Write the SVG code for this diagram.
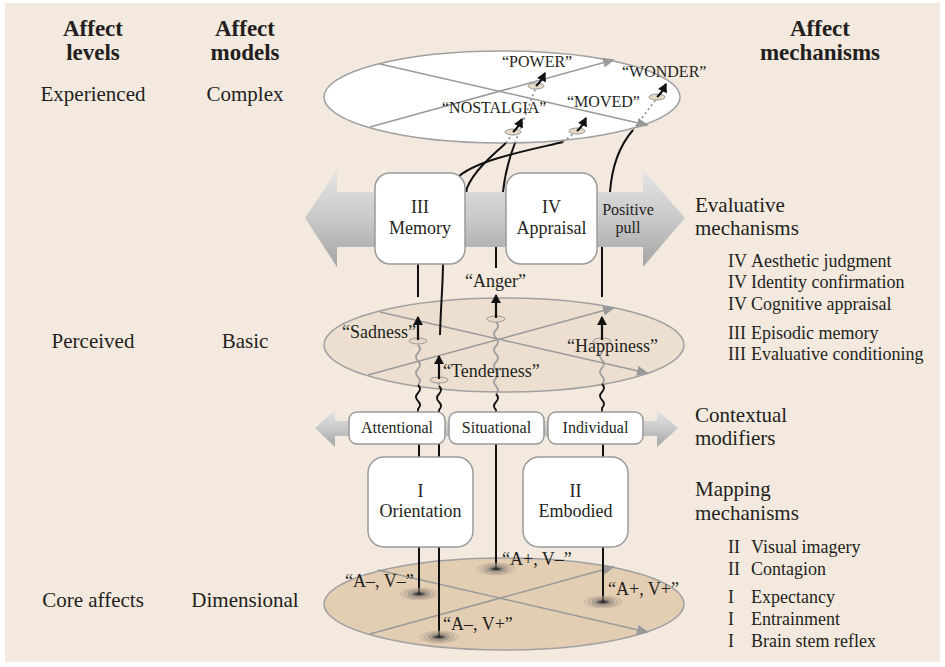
<svg xmlns="http://www.w3.org/2000/svg" xmlns:xlink="http://www.w3.org/1999/xlink" width="945" height="667" viewBox="0 0 945 667">
<style>
text{font-family:"Liberation Serif","Times New Roman",serif;fill:#231f20}
.h{font-weight:bold;font-size:23px;text-anchor:middle}
.c{font-size:21px;text-anchor:middle}
.r{font-size:21px}
.l{font-size:18px}
.q16{font-size:16px}
.q18{font-size:18px}
.bx{font-size:18px;text-anchor:middle}
.md{font-size:16px;text-anchor:middle}
.ell{stroke:#a0a0a0;stroke-width:1.5}
.cross{stroke:#9a9a9a;stroke-width:1.5;fill:none;marker-end:url(#ga)}
.box{fill:#fff;stroke:#9a9a9a;stroke-width:1.5}
.con{fill:none;stroke:#111;stroke-width:2}
.dot{fill:none;stroke:#999;stroke-width:2;stroke-dasharray:2 3}
.wg{fill:none;stroke:#a0a0a0;stroke-width:1.8}
.wb{fill:none;stroke:#111;stroke-width:1.8}
.ar{fill:none;stroke:#111;stroke-width:2.2;marker-end:url(#ba)}
.se{fill:#e8d9c6;stroke:#999;stroke-width:1}
</style>
<defs>
<marker id="ga" markerWidth="12" markerHeight="10" refX="10" refY="5" orient="auto" markerUnits="userSpaceOnUse"><path d="M0,0 L12,5 L0,10 Z" fill="#9a9a9a"/></marker>
<marker id="ba" markerWidth="9" markerHeight="10" refX="8" refY="5" orient="auto" markerUnits="userSpaceOnUse"><path d="M0,0 L9,5 L0,10 Z" fill="#111"/></marker>
<linearGradient id="band" x1="0" y1="0" x2="0" y2="1"><stop offset="0" stop-color="#e4e4e4"/><stop offset="0.5" stop-color="#c9c9c9"/><stop offset="1" stop-color="#a4a4a4"/></linearGradient>
<radialGradient id="rg"><stop offset="0" stop-color="#1a1a1a"/><stop offset="0.2" stop-color="#3a3a3a" stop-opacity="0.8"/><stop offset="0.5" stop-color="#8a8a8a" stop-opacity="0.35"/><stop offset="1" stop-color="#b0a090" stop-opacity="0"/></radialGradient>
<g id="blob"><ellipse rx="21" ry="6.5" fill="url(#rg)"/><ellipse rx="19" ry="5.8" fill="none" stroke="#b8a894" stroke-width="0.6"/><ellipse rx="15" ry="4.6" fill="none" stroke="#a89886" stroke-width="0.6"/><ellipse rx="11" ry="3.4" fill="none" stroke="#887868" stroke-width="0.6"/></g>
</defs>
<rect x="5" y="3" width="935" height="659" fill="#f3e9df"/>

<g id="col-levels">
<text class="h" x="93" y="36">Affect</text><text class="h" x="93" y="60">levels</text>
<text class="c" x="93" y="101">Experienced</text>
<text class="c" x="93" y="348">Perceived</text>
<text class="c" x="93" y="607">Core affects</text>
</g>
<g id="col-models">
<text class="h" x="245" y="36">Affect</text><text class="h" x="245" y="60">models</text>
<text class="c" x="245" y="101">Complex</text>
<text class="c" x="245" y="348">Basic</text>
<text class="c" x="245" y="607">Dimensional</text>
</g>
<g id="col-mechanisms">
<text class="h" x="820" y="36">Affect</text><text class="h" x="820" y="60">mechanisms</text>
<text class="r" x="695" y="212">Evaluative</text><text class="r" x="695" y="235">mechanisms</text>
<text class="l" x="728" y="267">IV <tspan x="751">Aesthetic judgment</tspan></text>
<text class="l" x="728" y="288">IV <tspan x="751">Identity confirmation</tspan></text>
<text class="l" x="728" y="310">IV <tspan x="751">Cognitive appraisal</tspan></text>
<text class="l" x="728" y="339">III <tspan x="751">Episodic memory</tspan></text>
<text class="l" x="728" y="360">III <tspan x="751">Evaluative conditioning</tspan></text>
<text class="r" x="695" y="422">Contextual</text><text class="r" x="695" y="445">modifiers</text>
<text class="r" x="695" y="496">Mapping</text><text class="r" x="695" y="520">mechanisms</text>
<text class="l" x="728" y="553">II <tspan x="751">Visual imagery</tspan></text>
<text class="l" x="728" y="575">II <tspan x="751">Contagion</tspan></text>
<text class="l" x="728" y="603">I <tspan x="751">Expectancy</tspan></text>
<text class="l" x="728" y="625">I <tspan x="751">Entrainment</tspan></text>
<text class="l" x="728" y="647">I <tspan x="751">Brain stem reflex</tspan></text>
</g>

<g id="ellipse-complex">
<ellipse class="ell" cx="502" cy="97" rx="178" ry="46" fill="#fff"/>
<path class="cross" d="M380,64 L647,125"/>
<path class="cross" d="M370,127 L613,60"/>
</g>
<g id="ellipse-basic">
<ellipse class="ell" cx="504" cy="345" rx="180" ry="47" fill="#ecdfd0"/>
<path class="cross" d="M380,312 L647,373"/>
<path class="cross" d="M368,375 L613,308"/>
</g>
<g id="ellipse-dimensional">
<ellipse class="ell" cx="504" cy="604" rx="180" ry="46" fill="#e3cdb3"/>
<path class="cross" d="M378,570 L647,632"/>
<path class="cross" d="M370,634 L613,567"/>
</g>

<g id="connectors">
<path class="con" d="M419,444 L419,594"/>
<path class="con" d="M439,444 L439,637"/>
<path class="con" d="M496,444 L496,569"/>
<path class="con" d="M603,444 L603,602"/>
<path class="wg" d="M418,345 q4,4 0,8 t0,8 t0,8 t0,8 t0,8"/>
<path class="wb" d="M418,385 q4,4 0,8 t0,8 t0,8 l0,3"/>
<path class="wb" d="M439,386 q4,4 0,8 t0,8 t0,8 l0,2"/>
<path class="wg" d="M439,382 l0,4"/>
<path class="wg" d="M496,322 q4,4 0,8 t0,8 t0,8 t0,8 t0,8 t0,8 t0,8 t0,8 t0,8"/>
<path class="wb" d="M496,394 q4,4 0,8 t0,8 l0,2"/>
<path class="wg" d="M602,344 q4,4 0,8 t0,8 t0,8 t0,8 t0,8"/>
<path class="wb" d="M602,384 q4,4 0,8 t0,8 t0,8 l0,4"/>
<path class="con" d="M418,297 L418,250 L465,200 L467,188 C474,170 496,152 506,143"/>
<path class="con" d="M440,335 C441,300 443,285 443,262 L452,190 L457,178 C475,160 530,150 563,142"/>
<path class="con" d="M496,268 L496,247 L503,192 C505,172 510,156 515,143"/>
<path class="con" d="M602,297 L602,247 L610,192 C612,165 620,145 633,130"/>
<path class="dot" d="M506,143 L513,133"/>
<path class="dot" d="M515,143 L536,87"/>
<path class="dot" d="M563,142 L577,131"/>
<path class="dot" d="M633,130 L657,98"/>
</g>

<g id="small-arrows-complex">
<ellipse class="se" cx="536" cy="86" rx="8" ry="3"/>
<ellipse class="se" cx="513" cy="132" rx="8" ry="3"/>
<ellipse class="se" cx="577" cy="131" rx="8" ry="3"/>
<ellipse class="se" cx="657" cy="97" rx="8" ry="3"/>
<path class="ar" d="M536,86 C541,82 542,79 545,73"/>
<path class="ar" d="M513,132 C518,128 519,125 522,119"/>
<path class="ar" d="M577,131 C582,127 583,124 586,118"/>
<path class="ar" d="M657,97 C662,93 663,90 666,84"/>
</g>
<g id="small-arrows-basic">
<ellipse class="se" cx="418" cy="341" rx="9" ry="3"/>
<ellipse class="se" cx="439" cy="380" rx="9" ry="3"/>
<ellipse class="se" cx="496" cy="319" rx="9" ry="3"/>
<ellipse class="se" cx="602" cy="341" rx="9" ry="3"/>
<path class="ar" d="M418,340 L418,317"/>
<path class="ar" d="M439,379 L439,356"/>
<path class="ar" d="M496,318 L496,295"/>
<path class="ar" d="M602,340 L602,317"/>
</g>
<g id="blobs">
<use xlink:href="#blob" x="419" y="594"/>
<use xlink:href="#blob" x="439" y="637"/>
<use xlink:href="#blob" x="496" y="569"/>
<use xlink:href="#blob" x="603" y="602"/>
</g>

<g id="labels-complex">
<text class="q16" x="502" y="67">“POWER”</text>
<text class="q16" x="622" y="77">“WONDER”</text>
<text class="q16" x="442" y="113">“NOSTALGIA”</text>
<text class="q16" x="567" y="107">“MOVED”</text>
</g>
<g id="labels-basic">
<text class="q18" x="342" y="338">“Sadness”</text>
<text class="q18" x="443" y="377">“Tenderness”</text>
<text class="q18" x="465" y="287">“Anger”</text>
<text class="q18" x="567" y="352">“Happiness”</text>
</g>
<g id="labels-dimensional">
<text class="q18" x="345" y="587">“A–, V–”</text>
<text class="q18" x="502" y="565">“A+, V–”</text>
<text class="q18" x="608" y="595">“A+, V+”</text>
<text class="q18" x="443" y="630">“A–, V+”</text>
</g>

<g id="evaluative-band">
<path d="M305,218 L337,170 L337,192 L643,192 L643,170 L685,218 L643,267 L643,247 L337,247 L337,267 Z" fill="url(#band)"/>
<text class="md" x="628" y="215">Positive</text>
<text class="md" x="628" y="233">pull</text>
</g>
<g id="node-memory">
<rect class="box" x="375" y="173" width="90" height="91" rx="15"/>
<text class="bx" x="420" y="213">III</text><text class="bx" x="420" y="234">Memory</text>
</g>
<g id="node-appraisal">
<rect class="box" x="506" y="173" width="91" height="91" rx="15"/>
<text class="bx" x="551.5" y="213">IV</text><text class="bx" x="551.5" y="234">Appraisal</text>
</g>

<g id="modifier-band">
<path d="M315,428 L335,410 L335,421 L657,421 L657,410 L678,428 L657,447 L657,436 L335,436 L335,447 Z" fill="url(#band)"/>
</g>
<g id="node-attentional">
<rect class="box" x="349" y="412" width="96" height="32" rx="8"/>
<text class="md" x="397" y="433">Attentional</text>
</g>
<g id="node-situational">
<rect class="box" x="449" y="412" width="95" height="32" rx="8"/>
<text class="md" x="496.5" y="433">Situational</text>
</g>
<g id="node-individual">
<rect class="box" x="548" y="412" width="95" height="32" rx="8"/>
<text class="md" x="595.5" y="433">Individual</text>
</g>

<g id="node-orientation">
<rect class="box" x="368" y="457" width="105" height="90" rx="16"/>
<text class="bx" x="420.5" y="497">I</text><text class="bx" x="420.5" y="517">Orientation</text>
</g>
<g id="node-embodied">
<rect class="box" x="523" y="457" width="105" height="90" rx="16"/>
<text class="bx" x="575.5" y="497">II</text><text class="bx" x="575.5" y="517">Embodied</text>
</g>
</svg>
